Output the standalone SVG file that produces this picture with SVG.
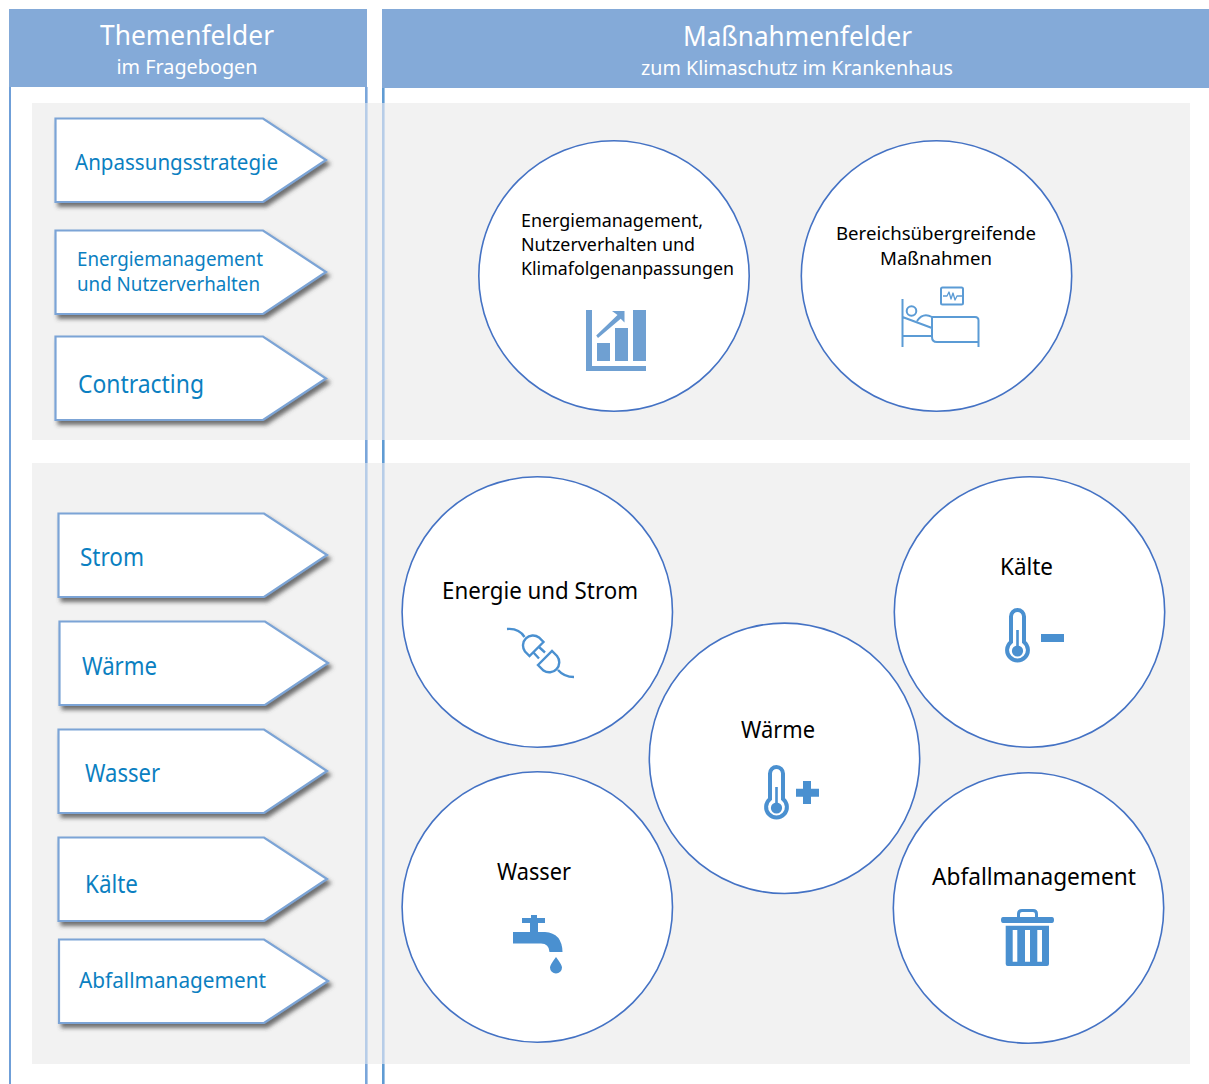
<svg xmlns="http://www.w3.org/2000/svg" width="1209" height="1084" viewBox="0 0 1209 1084">
<style>
text{font-family:"Noto Sans","Open Sans","Liberation Sans",sans-serif}
.hd{fill:#84aad8}
.pn{fill:#f2f2f2}
.vl{stroke:#7aa6da;stroke-width:2.6;fill:none}
.vr{stroke:#5f9bd3;stroke-width:2.6;fill:none}
.vf{stroke:#b7cde8;stroke-width:2.6;fill:none}
.ve{stroke:#6f9fd8;stroke-width:2;fill:none}
.ar{fill:#fff;stroke:#7ba4d6;stroke-width:2.2;stroke-linejoin:miter;filter:url(#sh)}
.at{fill:#0b7fc1}
.ci{fill:#fff;stroke:#4472c4;stroke-width:1.6}
.ct{fill:#000}
.ht{fill:#fff;text-anchor:middle}
.ib{fill:#6fa0d2}
.il{fill:none;stroke:#5b9bd5;stroke-width:2;stroke-linecap:butt;stroke-linejoin:round}
.ic{fill:#4a90d0}
.is{fill:none;stroke:#4a90d0;stroke-width:2.400}
.it{fill:none;stroke:#4a90d0;stroke-width:4}
</style>
<defs>
<filter id="sh" x="-10%" y="-10%" width="125%" height="130%"><feDropShadow dx="3" dy="4" stdDeviation="2.2" flood-color="#444" flood-opacity="0.75"/></filter>
<g id="thermo">
<path class="it" d="M-6.5 33V7.5a6.5 6.5 0 0 1 13 0V33A10.4 10.4 0 1 1-6.5 33Z"/>
<circle class="ic" cx="0" cy="42" r="5.6"/>
<rect class="ic" x="-1.3" y="21" width="2.6" height="18"/>
</g>
</defs>

<g id="backgrounds">
<rect class="pn" x="32" y="103" width="1158" height="337"/>
<rect class="pn" x="32" y="463" width="1158" height="601"/>
</g>
<g id="rules">
<path class="ve" d="M10 87V1084"/>
<path class="vl" d="M366.300 87V103M366.300 440V463M366.300 1064V1084"/>
<path class="vr" d="M383.300 87V103M383.300 440V463M383.300 1064V1084"/>
<path class="vf" d="M366.300 103V440M366.300 463V1064M383.300 103V440M383.300 463V1064"/>
</g>
<g id="header-left">
<rect class="hd" x="9" y="9" width="358" height="78"/>
<text class="ht" x="187" y="45" font-size="28" textLength="174" lengthAdjust="spacingAndGlyphs">Themenfelder</text>
<text class="ht" x="187" y="74" font-size="20.5" textLength="141" lengthAdjust="spacingAndGlyphs">im Fragebogen</text>
</g>
<g id="header-right">
<rect class="hd" x="382" y="9" width="827" height="79"/>
<text class="ht" x="797.500" y="46" font-size="28" textLength="229" lengthAdjust="spacingAndGlyphs">Maßnahmenfelder</text>
<text class="ht" x="797" y="75" font-size="20.5" textLength="312" lengthAdjust="spacingAndGlyphs">zum Klimaschutz im Krankenhaus</text>
</g>

<g id="arrow-anpassungsstrategie"><path class="ar" d="M55.500 118.500H263L326 160L263 202H55.500Z"/><text class="at" x="75" y="170" font-size="22.500" textLength="203" lengthAdjust="spacingAndGlyphs">Anpassungsstrategie</text></g>
<g id="arrow-energiemanagement"><path class="ar" d="M55.500 230.500H263L326 272L263 314H55.500Z"/><text class="at" x="77" y="266" font-size="20" textLength="186" lengthAdjust="spacingAndGlyphs">Energiemanagement</text><text class="at" x="77" y="291" font-size="20" textLength="183" lengthAdjust="spacingAndGlyphs">und Nutzerverhalten</text></g>
<g id="arrow-contracting"><path class="ar" d="M55.500 336.500H263L326 378.500L263 420H55.500Z"/><text class="at" x="78" y="393" font-size="24.500" textLength="126" lengthAdjust="spacingAndGlyphs">Contracting</text></g>
<g id="arrow-strom"><path class="ar" d="M58.500 513.500H264L327 555L264 597H58.500Z"/><text class="at" x="80" y="566" font-size="24.500" textLength="64" lengthAdjust="spacingAndGlyphs">Strom</text></g>
<g id="arrow-waerme"><path class="ar" d="M59.500 621.500H265L328 663L265 705H59.500Z"/><text class="at" x="82" y="675" font-size="24.500" textLength="75" lengthAdjust="spacingAndGlyphs">Wärme</text></g>
<g id="arrow-wasser"><path class="ar" d="M58.500 729.500H264L327 771L264 813H58.500Z"/><text class="at" x="85" y="782" font-size="24.500" textLength="75" lengthAdjust="spacingAndGlyphs">Wasser</text></g>
<g id="arrow-kaelte"><path class="ar" d="M58.500 837.500H264L327 879L264 921H58.500Z"/><text class="at" x="85" y="893" font-size="24.500" textLength="53" lengthAdjust="spacingAndGlyphs">Kälte</text></g>
<g id="arrow-abfallmanagement"><path class="ar" d="M59 939.500H264L328 981L264 1023H59Z"/><text class="at" x="79" y="988" font-size="22.500" textLength="187" lengthAdjust="spacingAndGlyphs">Abfallmanagement</text></g>

<g id="circle-energiemanagement">
<circle class="ci" cx="614" cy="276" r="135.200"/>
<text class="ct" x="521" y="227" font-size="18.500" textLength="182" lengthAdjust="spacingAndGlyphs">Energiemanagement,</text>
<text class="ct" x="521" y="251" font-size="18.500" textLength="174" lengthAdjust="spacingAndGlyphs">Nutzerverhalten und</text>
<text class="ct" x="521" y="275" font-size="18.500" textLength="213" lengthAdjust="spacingAndGlyphs">Klimafolgenanpassungen</text>
<path class="ib" d="M586 310h6v56h54v5h-60ZM597 343h13v18h-13ZM615 328h13v33h-13ZM633 310h13v51h-13ZM612 311h12.500v11.500l-3.800-3.800L598 338l-1.800-2.400L617.500 315Z"/>
</g>
<g id="circle-bereich">
<circle class="ci" cx="936.500" cy="276" r="135.200"/>
<text class="ct" x="836" y="240" font-size="18.500" textLength="200" lengthAdjust="spacingAndGlyphs">Bereichsübergreifende</text>
<text class="ct" x="880" y="265" font-size="18.500" textLength="112" lengthAdjust="spacingAndGlyphs">Maßnahmen</text>
<path class="il" d="M902.500 299V347M902.500 317L932 328M902.500 336H932M932 317H975Q978.500 317 978.500 320.500V347M932 317V337Q932 342 937 342H978.500M917 321Q923 312 932 317"/>
<circle class="il" cx="911.500" cy="311" r="4.800"/>
<rect class="il" x="941" y="287.500" width="22" height="17" rx="1.500"/>
<path class="il" style="stroke-width:1.300" d="M943 296H947L949 292L951 299L953 293L955 300L957 296H962"/>
</g>
<g id="circle-energie-strom">
<circle class="ci" cx="537.300" cy="612" r="135.200"/>
<text class="ct" x="442" y="599" font-size="23.500" textLength="196" lengthAdjust="spacingAndGlyphs">Energie und Strom</text>
<path class="is" d="M507 629Q519 628 524.500 637M543.500 642L529.500 656L525 651.500A10 10 0 0 1 539 637.500ZM539 647L545 652.500M533 652L539 658.500M538 665L552 651L557 656A10 10 0 0 1 543.500 670.500ZM558 670Q564 677 574 677"/>
</g>
<g id="circle-kaelte">
<circle class="ci" cx="1029.500" cy="612" r="135.200"/>
<text class="ct" x="1000" y="575" font-size="23.500" textLength="53" lengthAdjust="spacingAndGlyphs">Kälte</text>
<use href="#thermo" x="1017.500" y="609"/>
<rect class="ic" x="1041" y="634" width="23" height="8"/>
</g>
<g id="circle-waerme">
<circle class="ci" cx="784.500" cy="758.300" r="135.200"/>
<text class="ct" x="741" y="738" font-size="23.500" textLength="74" lengthAdjust="spacingAndGlyphs">Wärme</text>
<use href="#thermo" x="776.500" y="766"/>
<path class="ic" d="M803 781h8v7.700h8v8h-8v7.300h-8v-7.300h-7v-8h7Z"/>
</g>
<g id="circle-wasser">
<circle class="ci" cx="537.300" cy="907" r="135.200"/>
<text class="ct" x="497" y="880" font-size="23.500" textLength="74" lengthAdjust="spacingAndGlyphs">Wasser</text>
<path class="ic" d="M531 915h6v3h8v5h-7v9h7Q562 933 562.500 952H549.500Q549 943.500 541 943.500H513V932H530V923h-8v-5h9ZM556 957Q562 965 562 967.500A6 6 0 0 1 550 967.500Q550 965 556 957Z"/>
</g>
<g id="circle-abfall">
<circle class="ci" cx="1028.500" cy="908" r="135.200"/>
<text class="ct" x="932" y="885" font-size="23.500" textLength="204" lengthAdjust="spacingAndGlyphs">Abfallmanagement</text>
<path class="ic" fill-rule="evenodd" d="M1003 917H1017V914Q1017 909 1022 909H1033Q1038 909 1038 914V917H1052Q1054 917 1054 920T1052 923H1003Q1001 923 1001 920T1003 917ZM1020 917H1035V914Q1035 912 1033 912H1022Q1020 912 1020 914ZM1005.700 925.700H1049V964Q1049 966 1047 966H1007.700Q1005.700 966 1005.700 964ZM1012.700 930V961.700H1017.300V930ZM1025 930V961.700H1030V930ZM1037.300 930V961.700H1042V930Z"/>
</g>
</svg>
